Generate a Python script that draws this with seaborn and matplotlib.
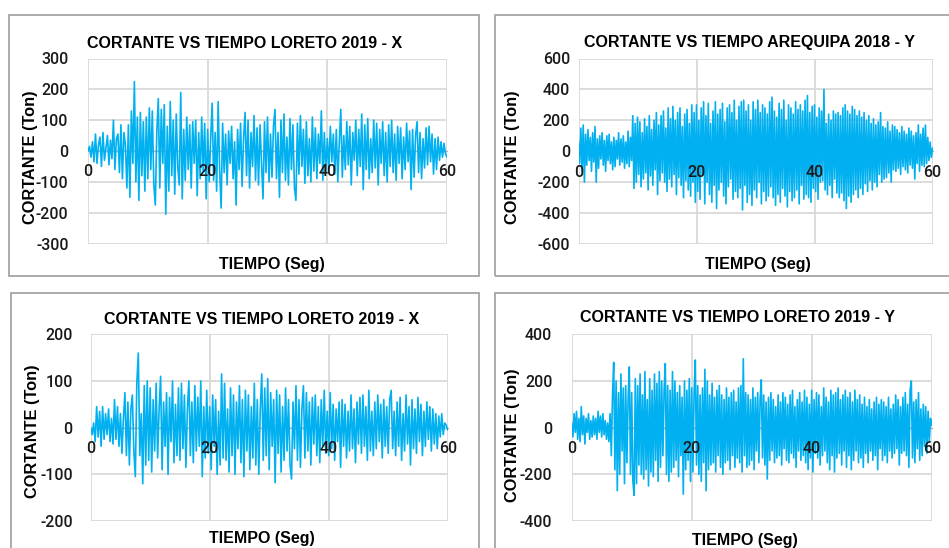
import numpy as np
import pandas as pd
import matplotlib
matplotlib.use("Agg")
import matplotlib.pyplot as plt
from matplotlib.patches import Rectangle
import seaborn as sns

sns.set_theme(style="white")
plt.rcParams['font.family'] = ['Liberation Sans', 'DejaVu Sans']
plt.rcParams['axes.unicode_minus'] = False

# ---------------- data ----------------
titles = ["CORTANTE VS TIEMPO LORETO 2019 - X",
          "CORTANTE VS TIEMPO AREQUIPA 2018 - Y",
          "CORTANTE VS TIEMPO LORETO 2019 - X",
          "CORTANTE VS TIEMPO LORETO 2019 - Y"]
x_label = "TIEMPO (Seg)"
y_label = "CORTANTE (Ton)"
x_ticks = [0, 20, 40, 60]
y_ticks_1 = [-300, -200, -100, 0, 100, 200, 300]
y_ticks_2 = [-600, -400, -200, 0, 200, 400, 600]
y_ticks_3 = [-200, -100, 0, 100, 200]
y_ticks_4 = [-400, -200, 0, 200, 400]

# Loreto 2019 - X (top), sampled every 0.25 s
v_loreto_x_top = [
    0, 15, -20, 30, -35, 55, -40, 20, 45, -50, 60, -30, 10, 50, -45, 35, -25, 100, -60, 40,
    55, -70, 85, -90, 60, 20, -120, 85, -150, 130, -40, 225, -100, 110, -160, 125, -80, 95, -130, 110,
    -90, 140, -60, 130, -110, -175, 60, 170, -120, 135, -40, 150, -205, 80, -130, 160, -80, 100, -140, 120,
    -50, -110, 190, -155, 70, -95, 110, -60, 85, -120, 95, -40, 100, -145, 60, -90, 110, -65, 90, -155,
    70, -100, 40, 155, -95, 60, -130, 160, -60, -185, 90, -70, 55, -110, 65, -40, 80, -90, 30, -175,
    70, -60, 90, -115, 40, 125, -80, 100, -120, 60, -50, 115, -95, 75, -110, 85, -40, -155, 95, -70,
    110, -100, 55, -85, 80, 135, -90, 60, -150, 100, -70, 120, -95, 45, -110, 105, -60, 85, -120, -160,
    90, -75, 115, -50, 70, -105, 95, -80, 40, -100, 110, -65, 75, -90, 55, -40, 130, -95, 60, -70,
    40, -60, 80, -35, 55, -75, 70, -100, 30, 135, -85, 50, -60, 95, -45, 80, -110, 60, -30, 100,
    -80, 70, -50, 120, -125, 85, -60, 105, -90, 40, -70, 100, -55, 90, -110, 70, -40, 95, -80, 60,
    -100, 85, -50, 100, -70, 55, -95, 80, -40, 75, -90, 45, -60, 90, -35, 65, -125, 70, -85, 50,
    95, -70, 60, -90, 40, -55, 75, -45, 80, -35, 55, -75, 40, -60, 45, -30, 30, -20, 25, -10, -20]

# Arequipa 2018 - Y, sampled every 0.2 s
v_arequipa_y = [
    60, -80, 150, -120, 170, -200, 110, -90, 140, -60, 90, -130, 120, -70, 160, -200, 80, -110, 100, -50,
    120, -90, 70, -130, 100, -60, 110, -80, 60, -120, 90, -100, 70, -50, 120, -90, 80, -70, 100, -110,
    60, -80, 130, -100, 90, -60, 230, -240, 180, -200, 220, -150, 190, -230, 120, -180, 210, -140, 160, -250,
    230, -160, 140, -220, 200, -120, 250, -280, 170, -190, 230, -140, 260, -200, 150, -260, 280, -180, 210, -230,
    290, -150, 200, -280, 250, -170, 280, -220, 160, -300, 240, -190, 270, -250, 180, -290, 300, -200, 250, -330,
    300, -260, 200, -310, 280, -150, 320, -340, 230, -200, 310, -280, 180, -330, 260, -220, 320, -370, 240, -250,
    270, -200, 310, -290, 190, -340, 280, -230, 300, -180, 250, -310, 330, -260, 200, -300, 290, -240, 320, -380,
    330, -220, 260, -330, 300, -280, 200, -350, 320, -250, 270, -300, 330, -200, 250, -340, 300, -260, 280, -320,
    240, -290, 320, -230, 350, -300, 260, -350, 220, -280, 310, -330, 270, -240, 330, -290, 200, -360, 300, -260,
    280, -320, 240, -300, 320, -250, 270, -340, 300, -220, 260, -310, 330, -280, 360, -300, 250, -330, 290, -240,
    300, -260, 220, -310, 280, -200, 260, -190, 400, -250, 180, -280, 240, -220, 200, -300, 260, -180, 240, -270,
    250, -300, 230, -270, 280, -320, 300, -370, 260, -290, 240, -330, 290, -280, 270, -250, 230, -300, 260, -240,
    220, -280, 250, -210, 200, -260, 230, -190, 180, -250, 210, -200, 170, -230, 190, -150, 250, -200, 160, -180,
    150, -170, 190, -140, 130, -200, 170, -120, 160, -130, 140, -110, 120, -150, 160, -100, 130, -120, 110, -140,
    150, -90, 130, -110, 100, -180, 120, -80, 170, -130, 110, -90, 150, -100, 170, -80, 90, -60, 60, -40,
    20]

# Loreto 2019 - X (bottom), sampled every 0.25 s
v_loreto_x_bottom = [
    0, -15, 10, -30, 45, -20, 35, -40, 45, -25, 30, -15, 40, -30, 20, -35, 60, -25, 45, -40,
    30, -55, 20, 75, -60, 55, -80, 40, 70, -50, -105, 95, 160, -60, 30, -120, 90, -80, 100, -70,
    85, -95, 60, -50, 95, -65, 40, 110, -90, 55, -40, 75, -100, 65, -30, 100, -75, 50, -60, 85,
    -70, 95, -45, 70, -85, 40, 100, -60, 55, -75, 90, -50, 65, -40, 100, -105, 45, -65, 80, -55,
    45, -90, 70, -40, 60, -100, 35, -80, 115, -65, 95, -70, 40, -95, 85, -60, 70, -100, 55, -45,
    90, -75, 60, -105, 80, -50, 70, -90, 45, -65, 95, -80, 60, -100, 40, 115, -70, 85, -60, 105,
    -90, 75, -40, 60, -118, 80, -55, 70, -95, 45, -70, 85, -50, 60, -80, -110, 55, -45, 90, -70,
    60, -85, 40, 90, -65, 75, -50, 55, -80, 65, -35, 70, -60, 45, -75, 60, -40, 80, -55, 35,
    -60, 75, -45, 50, -70, 40, -30, 55, -85, 60, -40, 50, -65, 35, -50, 70, -45, 40, -75, 55,
    -35, 65, -55, 70, -40, 45, -70, 80, -50, 35, -60, 55, -45, 70, -30, 50, -65, 60, -40, 45,
    -55, 60, 80, -45, 35, -60, 55, -40, 65, -70, 30, -50, 70, -35, 45, -80, 60, -45, 40, -55,
    65, -30, 50, -60, 35, -40, 55, -25, 45, -50, 40, -35, 30, -45, 25, -20, 30, -15, 10, 5, -5]

# Loreto 2019 - Y, sampled every 0.2 s
v_loreto_y = [
    20, -40, 60, -20, 70, -50, 40, -60, 90, -30, 50, -70, 40, -20, 60, -50, 30, -40, 50, -30,
    40, -50, 70, -20, 50, -40, 60, -30, 30, -50, 20, -60, 60, -120, 140, 280, -180, 200, -270, 150,
    -200, 230, -100, 170, -240, 180, -150, 120, 260, -200, 150, -230, -290, 210, -240, 180, -160, 230, -200, 140,
    -220, 240, -180, 120, -250, 210, -190, 160, -210, 230, -140, 190, -230, 240, -170, 200, -120, 160, 275, -200,
    180, -230, 160, -190, 240, -170, 200, -140, 150, -210, 180, -120, 130, -285, 200, -180, 160, -140, 210, -230,
    170, -190, 150, 290, -160, 180, -200, 140, -230, 170, -150, 250, -270, 200, -180, 140, -160, 190, -150, 130,
    -190, 160, -120, 180, -170, 140, -200, 120, -150, 170, -140, 130, -180, 150, -120, 160, -170, 110, -130, 170,
    -150, 180, -190, 295, -120, 150, -170, 140, -160, 120, -140, 170, -180, 130, -100, 150, -150, 120, 205, -130,
    140, -160, 110, -220, 130, -140, 150, -100, 120, -150, 90, -130, 140, -120, 110, -160, 150, -90, 130, -140,
    100, -150, 140, -110, 160, -130, 90, -170, 120, -100, 150, -140, 110, -120, 160, -150, 130, -180, 100, -130,
    160, -190, 120, -110, 150, -130, 140, -160, 90, -120, 170, -100, 130, -150, 110, -180, 160, -120, 140, -190,
    150, -130, 170, -110, 120, -160, 140, -100, 160, -170, 130, -120, 150, -180, 110, -140, 160, -100, 120, -150,
    140, -130, 100, -170, 130, -110, 90, -150, 120, -100, 80, -140, 110, -120, 130, -180, 100, -90, 120, -140,
    110, -120, 90, -150, 130, -100, 80, -130, 100, -110, 140, -90, 120, -160, 90, -110, 130, -100, 150, -120,
    100, -170, 160, 200, -130, 110, -150, 120, -90, 150, -140, 80, -120, 100, -80, 90, -110, 70, -60, 40,
    10]

series = [v_loreto_x_top, v_arequipa_y, v_loreto_x_bottom, v_loreto_y]
yticks_all = [y_ticks_1, y_ticks_2, y_ticks_3, y_ticks_4]

# ---------------- layout (pixels) ----------------
W, H = 949, 548
fig = plt.figure(figsize=(W / 100, H / 100), dpi=100)

def fx(x):
    return x / W

def fy(y):
    return 1 - y / H

# plot areas: left, right, top, bottom (pixels from top-left)
areas = [(88, 447, 58.5, 243.5),
         (578.5, 932.5, 58.5, 244),
         (90.7, 447.7, 334.3, 521),
         (571.7, 931.7, 334.3, 521)]
boxes = [(9, 479, 15, 276), (495, 962, 15, 276), (11, 479, 292.5, 560), (495, 962, 292.5, 560)]
title_pos = [(245, 43), (750, 42), (262, 319), (738, 317)]
xlab_pos = [(272, 264), (758, 264), (262, 538), (745, 541)]
ylab_pos = [(30, 157), (513, 157), (33, 431), (513, 435)]
ypads = [14, 6, 13, 14]

LINE = "#00B0F0"
GRID = "#D9D9D9"

for (x0, x1, y0, y1) in boxes:
    fig.patches.append(Rectangle((fx(x0), fy(y1)), fx(x1 - x0), (y1 - y0) / H,
                                 transform=fig.transFigure, fill=False,
                                 edgecolor="#A6A6A6", linewidth=1.3, zorder=0))

for i in range(4):
    l, r, t, b = areas[i]
    ax = fig.add_axes([fx(l), fy(b), fx(r - l), (b - t) / H])
    vals = series[i]
    n = len(vals)
    df = pd.DataFrame({"t": np.linspace(0, 60, n), "v": vals})
    sns.lineplot(data=df, x="t", y="v", ax=ax, color=LINE, linewidth=1.2,
                 estimator=None, sort=False, zorder=3)
    yt = yticks_all[i]
    ax.set_xlim(0, 60)
    ax.set_ylim(yt[0], yt[-1])
    ax.set_xticks(x_ticks)
    ax.set_yticks(yt)
    ax.grid(True, color=GRID, linewidth=1.3, zorder=0)
    ax.set_axisbelow(True)
    for s in ["top", "right", "left"]:
        ax.spines[s].set_visible(False)
    ax.spines["bottom"].set_position(("data", 0))
    ax.spines["bottom"].set_color("#B4B4B4")
    ax.spines["bottom"].set_linewidth(1.0)
    ax.spines["bottom"].set_zorder(2)
    ax.tick_params(axis="both", length=0, labelsize=11.5, colors="#1a1a1a")
    ax.tick_params(axis="x", labelbottom=False)
    ax.tick_params(axis="y", pad=ypads[i])
    for lab in ax.get_yticklabels():
        lab.set_fontfamily(["Roboto", "DejaVu Sans"])
        lab.set_fontweight("medium")
    # x tick labels drawn above the signal, just below the zero line
    for xv in x_ticks:
        ax.annotate(str(xv), xy=(xv, 0), xytext=(0, -21), textcoords="offset pixels",
                    ha="center", va="center", fontsize=11.5, color="#1a1a1a",
                    fontfamily=["Roboto", "DejaVu Sans"], fontweight="medium",
                    zorder=6, annotation_clip=False)
    ax.set_xlabel("")
    ax.set_ylabel("")

    fig.text(fx(title_pos[i][0]), fy(title_pos[i][1]), titles[i], ha="center", va="center",
             fontsize=11.5, fontweight="bold", color="#000000")
    fig.text(fx(xlab_pos[i][0]), fy(xlab_pos[i][1]), x_label, ha="center", va="center",
             fontsize=11.5, fontweight="bold", color="#000000")
    fig.text(fx(ylab_pos[i][0]), fy(ylab_pos[i][1]), y_label, ha="center", va="center",
             rotation=90, fontsize=11.8, fontweight="bold", color="#000000")

fig.savefig("out.png", dpi=100)
